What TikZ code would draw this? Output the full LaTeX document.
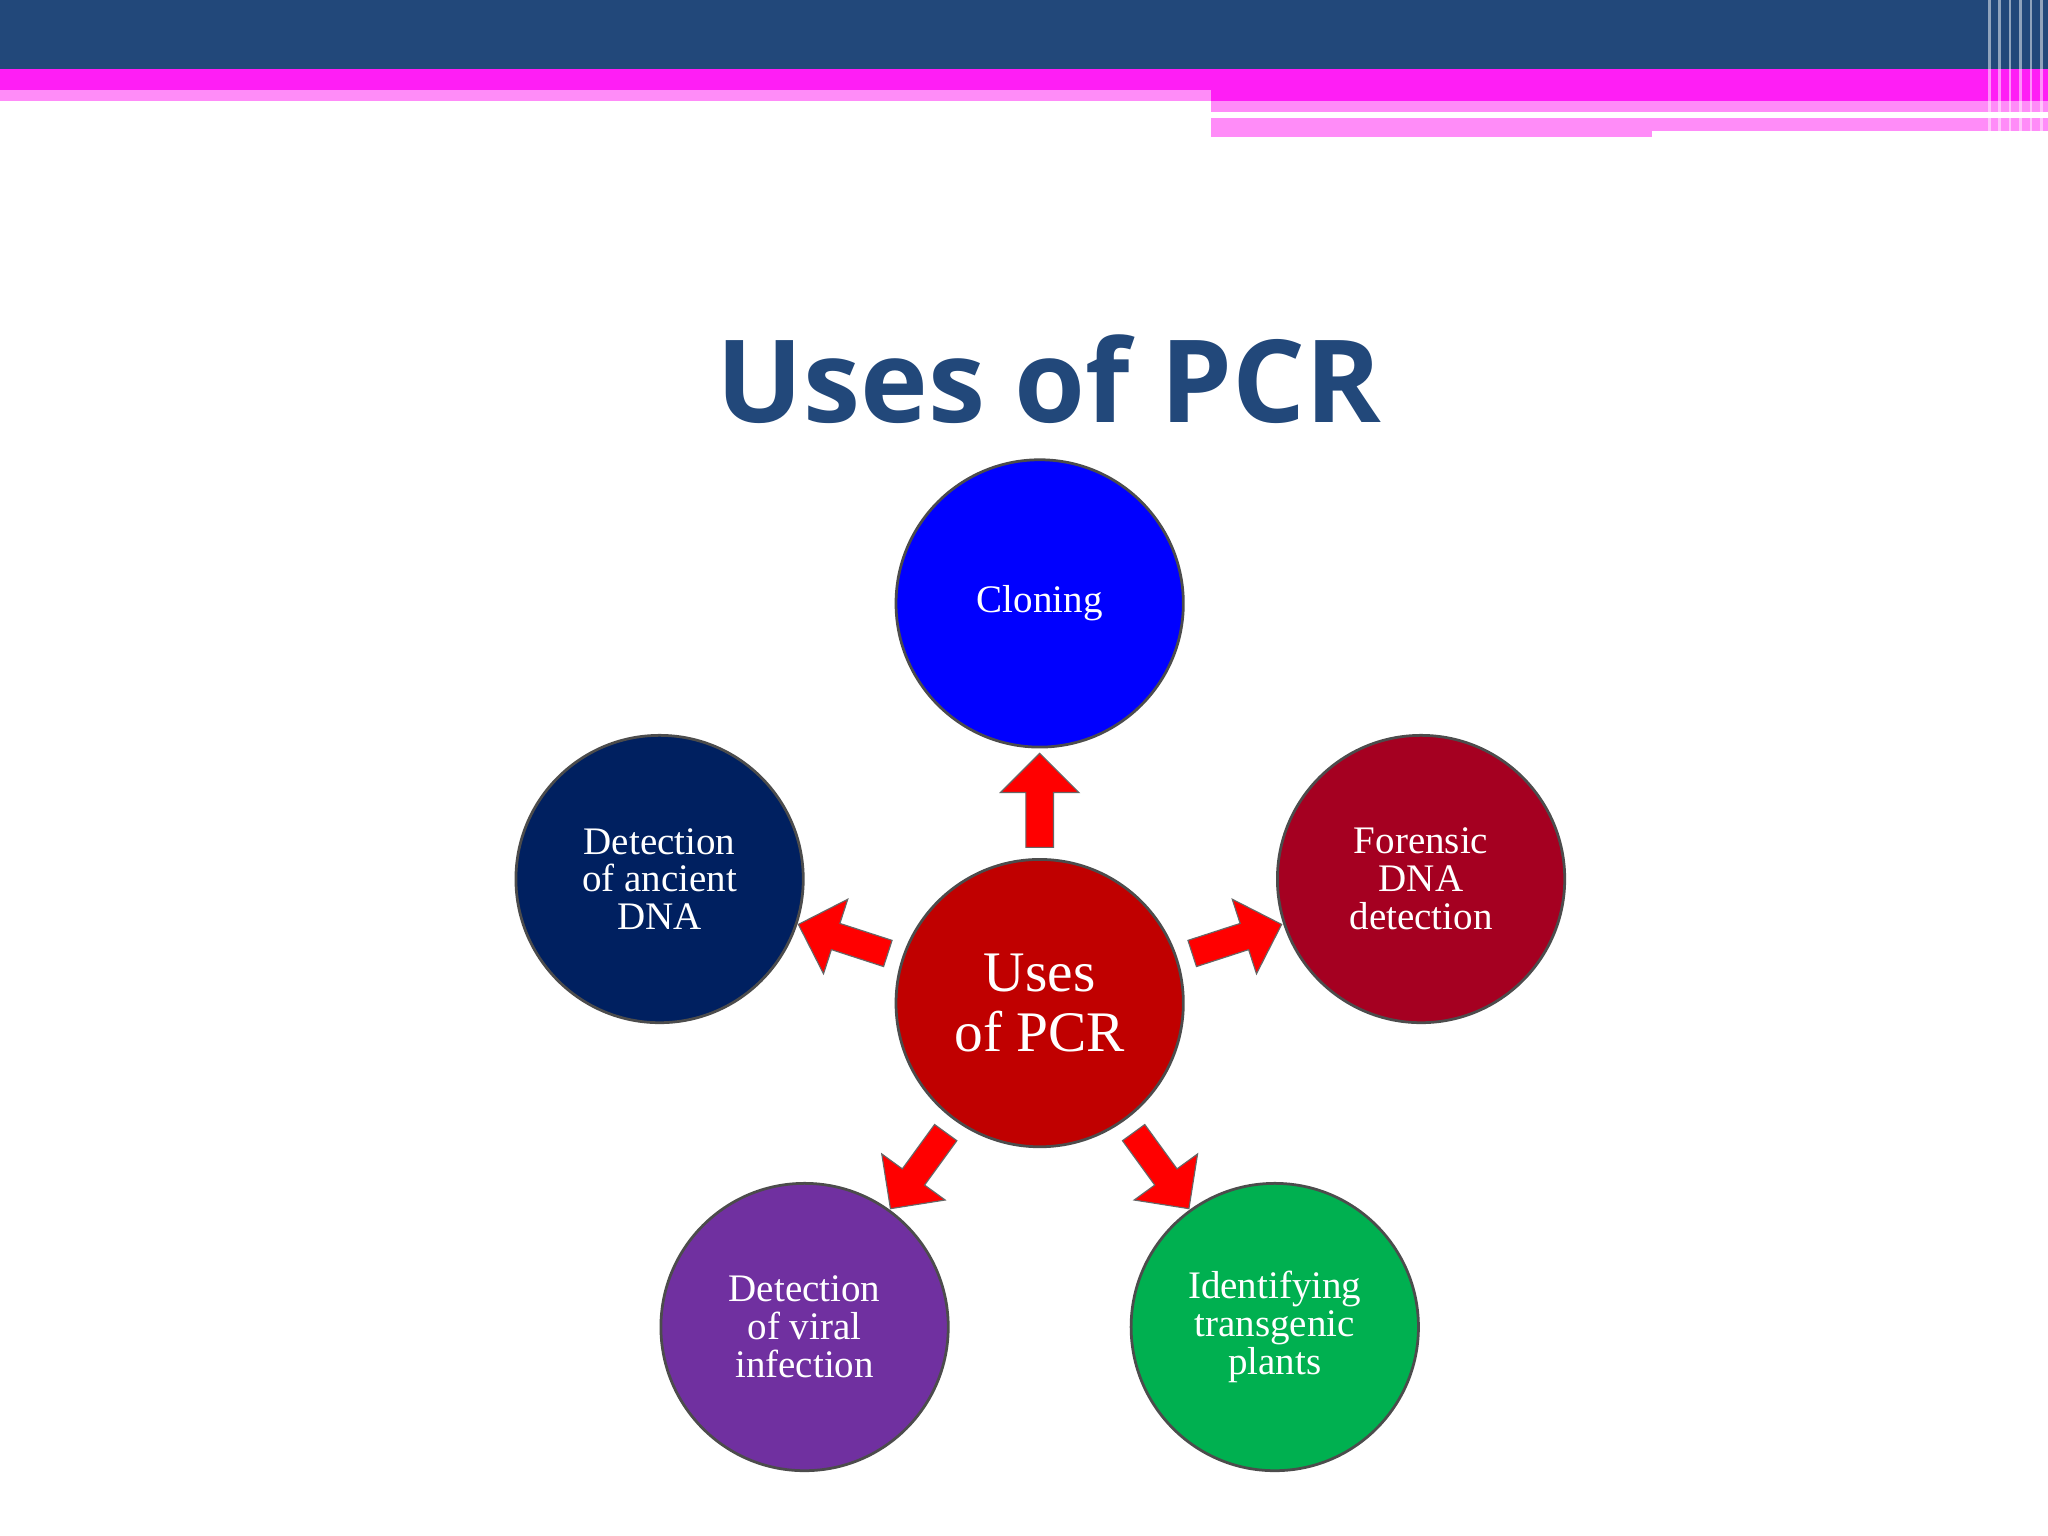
\documentclass[tikz,border=0pt]{standalone}
\usepackage{fontspec}
\setmainfont{Liberation Serif}
\newfontfamily\titlefont{Open Sans}
\usetikzlibrary{shapes.arrows,calc}
\definecolor{topblue}{HTML}{22487A}
\definecolor{mag}{HTML}{FF1EF5}
\definecolor{lpink}{HTML}{FF8CF8}
\tikzset{
 bub/.style={circle,minimum size=220*0.02cm,draw=black!70,line width=1.2pt,text=white,align=center,font=\fontsize{17}{16.5}\selectfont,inner sep=0pt},
 arr/.style={single arrow,fill=red,draw=black!60,line width=0.5pt,minimum height=72*0.02cm,minimum width=60*0.02cm,single arrow head extend=6pt,inner sep=3pt}
}
\begin{document}
\begin{tikzpicture}[x=0.02cm,y=-0.02cm]
\useasboundingbox (0,0) rectangle (1568,1176);
\fill[white] (0,0) rectangle (1568,1176);
\fill[topblue] (0,0) rectangle (1568,53);
\fill[mag] (0,53) rectangle (1568,69);
\fill[lpink] (0,69) rectangle (927,77);
\fill[mag] (927,69) rectangle (1568,77);
\fill[lpink] (927,77) rectangle (1568,86);
\fill[lpink] (927,90) rectangle (1265,105);
\fill[lpink] (1265,90) rectangle (1568,100);
\foreach \x in {1522,1530,1538,1546,1554,1562}{\fill[white,opacity=0.5] (\x,0) rectangle (\x+2,105);}
\node[font=\titlefont\bfseries\fontsize{50}{55}\selectfont,text=topblue] (title) at (803,290) {Uses of PCR};
\node[bub,fill={rgb,255:red,192;green,0;blue,0},font=\fontsize{25}{26}\selectfont] (c) at (796,768) {Uses\\of PCR};
\node[bub,fill={rgb,255:red,0;green,0;blue,255}] (n1) at (796,462) {Cloning};
\node[bub,fill={rgb,255:red,0;green,32;blue,96}] (n2) at (505,673) {Detection\\of ancient\\DNA};
\node[bub,fill={rgb,255:red,165;green,0;blue,33}] (n3) at (1088,673) {Forensic\\DNA\\detection};
\node[bub,fill={rgb,255:red,112;green,48;blue,160}] (n4) at (616,1016) {Detection\\of viral\\infection};
\node[bub,fill={rgb,255:red,0;green,176;blue,80}] (n5) at (976,1016) {Identifying\\transgenic\\plants};
\node[arr,rotate=90] (a1) at ($(c)!0.49!(n1)$) {};
\node[arr,rotate=162] (a2) at ($(c)!0.5!(n2)$) {};
\node[arr,rotate=18] (a3) at ($(c)!0.5!(n3)$) {};
\node[arr,rotate=234] (a4) at ($(c)!0.5!(n4)$) {};
\node[arr,rotate=-54] (a5) at ($(c)!0.5!(n5)$) {};
\end{tikzpicture}
\end{document}
